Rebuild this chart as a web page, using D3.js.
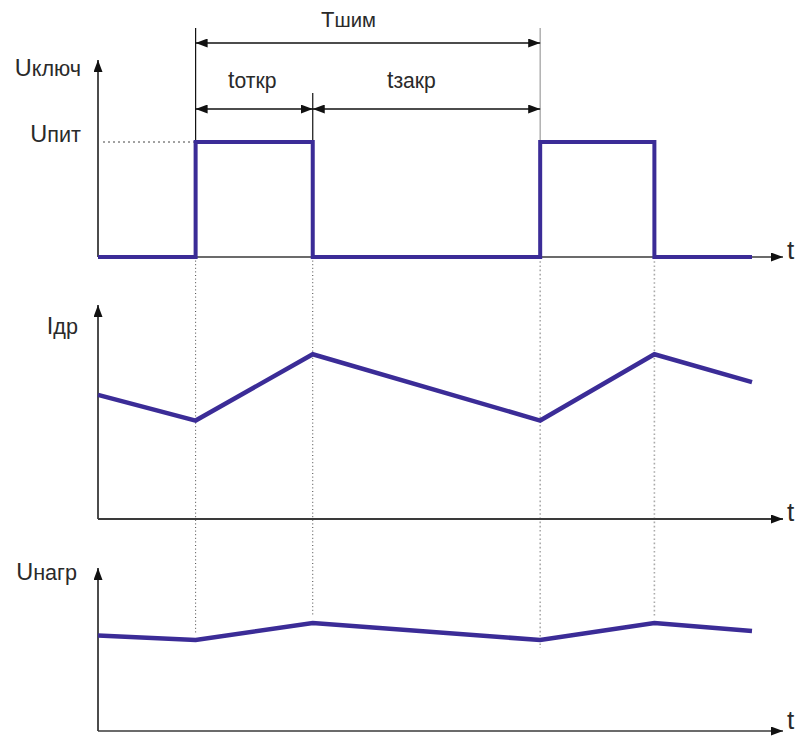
<!DOCTYPE html>
<html><head><meta charset="utf-8">
<script src="https://cdn.jsdelivr.net/npm/d3@7"></script>
<style>body{margin:0;background:#fff}svg{display:block}</style>
</head><body>
<svg id="c" width="802" height="736"></svg>
<script>
// ---- data ----
const tBreaks   = [0, 1.0, 2.2, 4.53, 5.7, 6.7];          // switching instants (arb. units)
const keyLevels = [0, 1, 0, 1, 0, 0];                      // U ключ, step after each instant (1 = Uпит)
const currentVals = [0.58, 0.46, 0.77, 0.46, 0.77, 0.64];  // I др
const loadVals    = [0.586, 0.558, 0.663, 0.558, 0.663, 0.613]; // U нагр
const panelLabels = [["U","ключ"], ["I","др"], ["U","нагр"]];
const axisLabel = "t";
const levelLabel = ["U","пит"];
const periodLabel = ["T","шим"];
const onLabel = ["t","откр"];
const offLabel = ["t","закр"];

const svg = d3.select("#c");
const wave = "#3b2c97", ink = "#2a2a2a", axisC = "#3a3a3a";
const font = "'Liberation Sans', Arial, sans-serif";

const x = d3.scaleLinear().domain([0, 6.7]).range([98, 752]);
const tEnd = x.invert(783);

const defs = svg.append("defs");
defs.append("marker").attr("id", "ah").attr("markerUnits","userSpaceOnUse")
  .attr("markerWidth",13).attr("markerHeight",9).attr("refX",12).attr("refY",4.5)
  .attr("orient","auto-start-reverse")
  .append("path").attr("d","M0,0 L12,4.5 L0,9 Z").attr("fill","#111");

const panels = [
  {y: d3.scaleLinear().domain([0,1]).range([257,142]), top: 60,  label: panelLabels[0], lx: 81, ly: 76, ty: 259},
  {y: d3.scaleLinear().domain([0,1]).range([519,305]), top: 305, label: panelLabels[1], lx: 78, ly: 334, ty: 521},
  {y: d3.scaleLinear().domain([0,1]).range([731,568]), top: 568, label: panelLabels[2], lx: 77, ly: 580, ty: 729},
];

function label(g, parts, xx, yy, anchor, size, ratio){
  const t = g.append("text").attr("x", xx).attr("y", yy).attr("text-anchor", anchor)
    .attr("font-family", font).attr("font-size", size).attr("fill", ink);
  t.append("tspan").text(parts[0]);
  t.append("tspan").attr("font-size", size*(ratio || 0.92)).text(parts[1]);
}

// dotted guide lines
const guideEnds = [panels[2].y(loadVals[1]) - 6, panels[2].y(loadVals[2]) - 6,
                   panels[2].y(loadVals[3]) + 8, panels[2].y(loadVals[4]) - 6];
[1,2,3,4].forEach((k,i) => {
  const dark = k < 3;
  svg.append("line").attr("x1", x(tBreaks[k])).attr("x2", x(tBreaks[k]))
    .attr("y1", panels[0].y(0)).attr("y2", guideEnds[i])
    .attr("stroke", dark ? "#444" : "#aaa").attr("stroke-width", dark ? 1 : 1.6)
    .attr("stroke-dasharray", dark ? "1,2.6" : "1.6,2.6");
});

// axes
panels.forEach((p, i) => {
  const g = svg.append("g");
  const y0 = p.y(0);
  g.append("line").attr("x1", x(0)).attr("x2", x(0)).attr("y1", y0).attr("y2", p.top)
    .attr("stroke", "#111").attr("stroke-width", 1.5).attr("marker-end","url(#ah)");
  g.append("line").attr("x1", x(0)).attr("x2", x(tEnd)).attr("y1", y0).attr("y2", y0)
    .attr("stroke", axisC).attr("stroke-width", i === 1 ? 2 : 1.6).attr("marker-end","url(#ah)");
  g.append("text").attr("x", 787).attr("y", p.ty).attr("font-family", font)
    .attr("font-size", 26).attr("fill", ink).text(axisLabel);
  label(g, p.label, p.lx, p.ly, "end", 23.5);
});

// Uпит level
const yTop = panels[0].y;
svg.append("line").attr("x1", x(0) + 5).attr("x2", x(tBreaks[1])).attr("y1", yTop(1)).attr("y2", yTop(1))
  .attr("stroke", "#444").attr("stroke-width", 1).attr("stroke-dasharray", "2,3");
label(svg, levelLabel, 81, 142, "end", 23.5);

// extension lines for dimensions
svg.append("line").attr("x1", x(tBreaks[1])).attr("x2", x(tBreaks[1])).attr("y1", 28).attr("y2", yTop(1))
  .attr("stroke", "#111").attr("stroke-width", 1.2);
svg.append("line").attr("x1", x(tBreaks[2])).attr("x2", x(tBreaks[2])).attr("y1", 93).attr("y2", yTop(1))
  .attr("stroke", "#111").attr("stroke-width", 1.2);
svg.append("line").attr("x1", x(tBreaks[3])).attr("x2", x(tBreaks[3])).attr("y1", 28).attr("y2", yTop(1))
  .attr("stroke", "#aaa").attr("stroke-width", 1.4);

function dim(t1, t2, yy){
  svg.append("line").attr("x1", x(t1)).attr("x2", x(t2)).attr("y1", yy).attr("y2", yy)
    .attr("stroke", "#111").attr("stroke-width", 1.3)
    .attr("marker-start","url(#ah)").attr("marker-end","url(#ah)");
}
dim(tBreaks[1], tBreaks[3], 43);
dim(tBreaks[1], tBreaks[2], 109);
dim(tBreaks[2], tBreaks[3], 109);
label(svg, periodLabel, 321, 27, "start", 22);
label(svg, onLabel, 228, 88, "start", 23);
label(svg, offLabel, 387, 88, "start", 23);

// signals
const sq = tBreaks.map((t, i) => [t, keyLevels[i]]);
svg.append("path").datum(sq)
  .attr("d", d3.line().x(d => x(d[0])).y(d => yTop(d[1])).curve(d3.curveStepAfter))
  .attr("fill","none").attr("stroke", wave).attr("stroke-width", 4).attr("stroke-linejoin","miter");

[[currentVals, panels[1].y], [loadVals, panels[2].y]].forEach(([vals, ys]) => {
  svg.append("path").datum(tBreaks.map((t, i) => [t, vals[i]]))
    .attr("d", d3.line().x(d => x(d[0])).y(d => ys(d[1])))
    .attr("fill","none").attr("stroke", wave).attr("stroke-width", 4.5).attr("stroke-linejoin","miter");
});
</script>
</body></html>
